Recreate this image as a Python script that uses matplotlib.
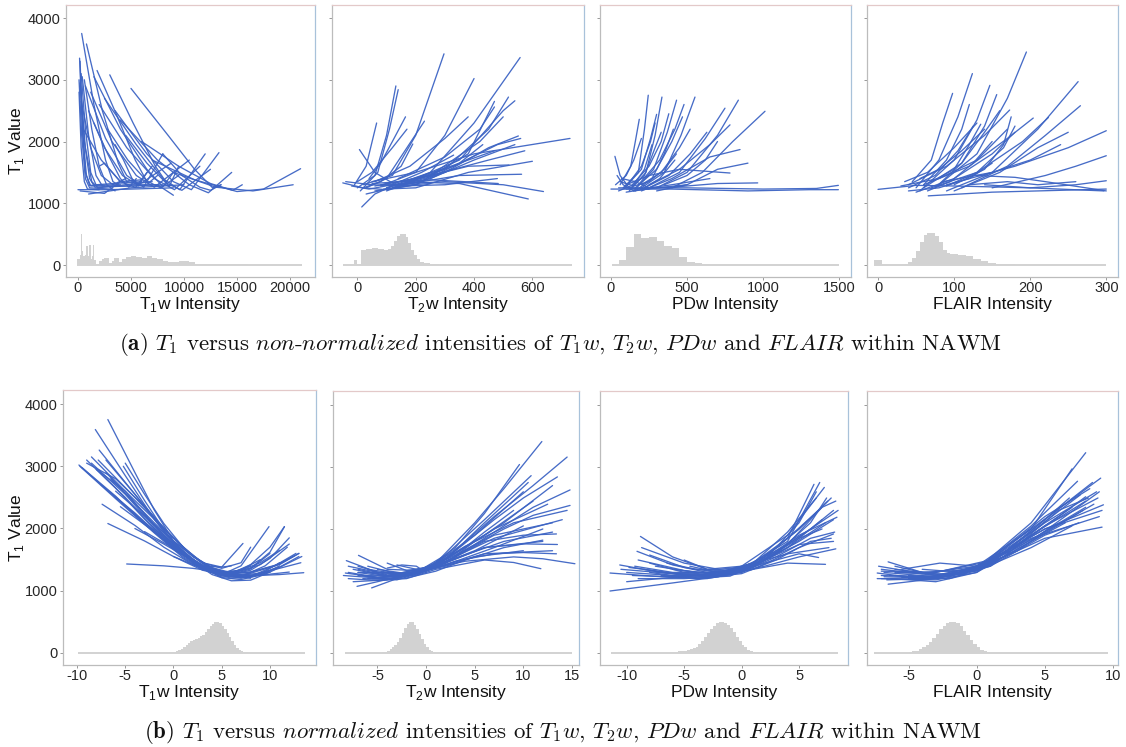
import numpy as np
import matplotlib
matplotlib.use("Agg")
import matplotlib.pyplot as plt

plt.rcParams['font.family'] = ['Liberation Sans', 'DejaVu Sans']

BLUE = '#3d64c4'
HIST = '#d2d2d2'

# ---------------- (a) non-normalized ----------------
t1w_raw_curves = [
    [(150, 3350), (450, 2100), (800, 1450), (1200, 1280), (2500, 1280)],
    [(200, 3300), (400, 2300), (700, 1500), (1100, 1290), (4000, 1300)],
    [(100, 3000), (350, 2100), (700, 1400), (1100, 1250), (3000, 1230)],
    [(300, 3100), (700, 2200), (1200, 1500), (1700, 1300), (6000, 1350)],
    [(250, 2900), (600, 2000), (1100, 1400), (1600, 1260), (8000, 1300)],
    [(100, 2800), (300, 1900), (600, 1350), (900, 1230), (2000, 1220)],
    [(400, 3050), (1000, 2100), (1700, 1450), (2300, 1280), (5000, 1280)],
    [(600, 3000), (1300, 2200), (2000, 1600), (2700, 1300), (3500, 1200)],
    [(200, 2950), (700, 1900), (1300, 1350), (1900, 1250), (7000, 1350)],
    [(0, 1220), (3000, 1220), (9000, 1250)],
    [(350, 3750), (1500, 2600), (2600, 1700), (3300, 1350), (3800, 1300)],
    [(800, 3580), (2300, 2500), (3800, 1650), (4600, 1350), (5200, 1380)],
    [(1800, 3150), (3600, 2450), (5400, 1700), (6600, 1320), (7500, 1450)],
    [(3000, 3080), (5200, 2300), (7300, 1600), (8600, 1270), (9500, 1600)],
    [(5000, 2860), (8500, 2100), (11000, 1550), (12700, 1250), (13500, 1300)],
    [(1500, 3050), (4000, 2200), (6500, 1550), (8000, 1270), (9000, 1500)],
    [(2500, 2700), (5500, 1950), (8000, 1400), (9600, 1220), (12000, 1800)],
    [(3500, 2500), (6500, 1800), (9000, 1350), (10700, 1220), (13300, 1820)],
    [(700, 2900), (2600, 2050), (4600, 1450), (6200, 1260), (8000, 1800)],
    [(1200, 2800), (3200, 2000), (5500, 1450), (7200, 1260), (10500, 1700)],
    [(2000, 2600), (4600, 1900), (7200, 1400), (9100, 1220), (11500, 1600)],
    [(4000, 2350), (7500, 1700), (10500, 1300), (12300, 1170), (14500, 1500)],
    [(500, 2200), (2200, 1700), (4000, 1350), (5400, 1260), (8800, 1650)],
    [(6000, 2000), (9500, 1600), (12500, 1320), (14600, 1210), (15500, 1300)],
    [(7000, 1700), (11000, 1380), (15000, 1190), (17500, 1230), (21000, 1560)],
    [(9000, 1500), (13000, 1260), (16500, 1200), (20300, 1300)],
    [(4500, 2100), (6500, 1650), (8300, 1330), (9800, 1210), (12500, 1550)],
    [(2000, 1600), (2500, 1650), (3000, 1550), (4000, 1350)],
    [(1000, 1150), (5000, 1250), (10000, 1300)],
    [(3500, 1950), (4300, 1700), (5100, 1400), (5700, 1280), (6500, 1500)],
    [(1500, 2300), (2800, 1800), (4000, 1400), (4800, 1260), (5500, 1400)],
    [(8000, 1800), (9800, 1450), (11500, 1260), (12500, 1210), (13500, 1300)],
    [(200, 1200), (2500, 1160), (4000, 1350), (6000, 1380)],
    [(5000, 1300), (7500, 1300), (9000, 1130)],
    [(1000, 2500), (2500, 1900), (4200, 1450), (5600, 1300), (7000, 1600)],
    [(300, 2650), (1200, 1900), (2200, 1450), (3300, 1300), (4500, 1400)],
    [(2800, 2200), (4700, 1700), (6500, 1360), (7800, 1250), (9500, 1450)],
]
t1w_raw_hist_edges = [-100, 150, 250, 400, 500, 650, 800, 950, 1050, 1200,
                      1350, 1450, 1550, 1700, 2000, 2300, 2500, 2900, 3200, 3400,
                      3900, 4200, 4500, 5000, 5500, 6000, 6500, 7000, 7500, 8000,
                      8500, 9000, 9500, 10500, 11000, 12000, 13000, 14000, 15000, 16000,
                      17000, 21100]
t1w_raw_hist_heights = [100, 160, 500, 220, 150, 160, 300, 150, 320, 100,
                        140, 320, 80, 20, 60, 100, 110, 30, 60, 110,
                        50, 100, 130, 140, 130, 120, 140, 110, 90, 70,
                        55, 50, 60, 55, 20, 12, 10, 15, 12, 6, 3]

t2w_raw_curves = [
    [(20, 1300), (120, 1450), (200, 2100), (297, 3420)],
    [(100, 1250), (250, 1500), (400, 2300), (558, 3360)],
    [(80, 1280), (200, 1500), (300, 2100), (400, 3020)],
    [(0, 1250), (60, 1450), (100, 2100), (132, 2900)],
    [(10, 1200), (70, 1500), (110, 2200), (140, 2840)],
    [(-10, 1300), (30, 1600), (66, 2300)],
    [(7, 1870), (60, 1500), (130, 1300), (220, 1350)],
    [(50, 1350), (200, 1500), (400, 1800), (729, 2050)],
    [(100, 1300), (300, 1350), (500, 1300), (638, 1190)],
    [(150, 1350), (350, 1320), (586, 1070)],
    [(15, 940), (60, 1150), (120, 1280), (250, 1320)],
    [(120, 1250), (300, 1500), (450, 1900), (552, 2090)],
    [(80, 1300), (250, 1450), (450, 1700), (574, 1850)],
    [(130, 1280), (350, 1450), (563, 1470)],
    [(50, 1320), (250, 1380), (483, 1320)],
    [(100, 1200), (300, 1550), (450, 2200), (518, 2720)],
    [(150, 1300), (350, 1700), (500, 2500), (540, 2660)],
    [(60, 1350), (180, 1600), (300, 2050), (380, 2400)],
    [(0, 1350), (50, 1500), (120, 1900), (170, 2200)],
    [(30, 1250), (100, 1400), (170, 1900), (230, 2330)],
    [(200, 1300), (380, 1800), (470, 2650)],
    [(100, 1250), (250, 1450), (420, 2000), (500, 2400)],
    [(-40, 1350), (50, 1300), (150, 1280), (300, 1300), (480, 1400)],
    [(60, 1200), (200, 1300), (350, 1650), (430, 1950)],
    [(170, 1350), (330, 1600), (480, 1950), (560, 2050)],
    [(-50, 1330), (20, 1250), (100, 1220), (200, 1300)],
    [(30, 1150), (120, 1250), (250, 1400), (320, 1550)],
    [(140, 1400), (300, 1750), (420, 2200), (470, 2560)],
    [(40, 1400), (80, 1650), (120, 2000), (165, 2400)],
    [(210, 1400), (380, 1600), (520, 1620)],
    [(90, 1230), (200, 1250), (380, 1500), (600, 1680)],
    [(20, 1250), (80, 1350), (150, 1600), (190, 1960)],
    [(250, 1400), (400, 1700), (540, 1950)],
    [(60, 1280), (180, 1380), (320, 1600), (470, 1850)],
    [(-20, 1280), (40, 1230), (120, 1300), (220, 1500), (330, 1780)],
]
t2w_raw_hist_edges = [-50, -10, -2, 12, 30, 50, 70, 90, 105, 115,
                      125, 135, 145, 155, 165, 175, 185, 195, 205, 215,
                      230, 250, 280, 735]
t2w_raw_hist_heights = [0, 80, 0, 240, 265, 275, 260, 245, 255, 300,
                        390, 470, 510, 505, 450, 350, 250, 170, 100, 55,
                        25, 10, 3]

pdw_raw_curves = [
    [(80, 1250), (180, 1500), (220, 2200), (245, 2750)],
    [(120, 1200), (230, 1500), (290, 2100), (335, 2720)],
    [(200, 1250), (350, 1500), (460, 2100), (552, 2720)],
    [(300, 1250), (500, 1500), (700, 2100), (837, 2670)],
    [(400, 1250), (600, 1500), (800, 2000), (1012, 2490)],
    [(60, 1300), (130, 1600), (160, 2000), (186, 2360)],
    [(90, 1250), (200, 1550), (260, 2050), (300, 2440)],
    [(150, 1200), (280, 1550), (370, 2150), (431, 2670)],
    [(250, 1250), (450, 1500), (620, 2050), (749, 2540)],
    [(250, 1300), (450, 1550), (650, 1950), (782, 2270)],
    [(200, 1200), (400, 1400), (650, 1750), (848, 1870)],
    [(100, 1230), (400, 1260), (700, 1320), (964, 1330)],
    [(0, 1230), (400, 1230), (900, 1200), (1300, 1220), (1494, 1220)],
    [(50, 1250), (500, 1250), (1000, 1230), (1350, 1240), (1494, 1290)],
    [(26, 1760), (60, 1450), (120, 1250), (250, 1230)],
    [(40, 1450), (80, 1300), (150, 1200), (300, 1250), (500, 1300)],
    [(100, 1300), (250, 1450), (450, 1550), (782, 1490)],
    [(140, 1300), (250, 1600), (330, 2000), (380, 2450)],
    [(160, 1250), (300, 1550), (400, 2000), (470, 2400)],
    [(180, 1300), (320, 1700), (420, 2200), (480, 2600)],
    [(110, 1300), (200, 1600), (260, 2000), (290, 2300)],
    [(130, 1250), (220, 1450), (290, 1900), (330, 2150)],
    [(220, 1250), (380, 1450), (520, 1800), (630, 2150)],
    [(70, 1400), (160, 1350), (250, 1250), (400, 1300), (650, 1400)],
    [(300, 1200), (500, 1300), (700, 1550), (900, 1650)],
    [(50, 1200), (150, 1300), (220, 1550), (270, 1950)],
    [(160, 1200), (270, 1400), (350, 1800), (410, 2200)],
    [(200, 1300), (330, 1500), (450, 1900), (520, 2200)],
    [(30, 1300), (100, 1450), (150, 1700), (200, 2050)],
    [(350, 1300), (500, 1450), (620, 1700), (700, 2000)],
    [(60, 1350), (150, 1280), (250, 1350), (350, 1550), (430, 1800)],
    [(100, 1180), (200, 1220), (320, 1400), (420, 1700)],
]
pdw_raw_hist_edges = [0, 50, 100, 150, 200, 250, 300, 350, 400, 450, 500, 550, 600, 650, 1500]
pdw_raw_hist_heights = [5, 80, 290, 510, 430, 460, 395, 300, 270, 125, 55, 27, 10, 3]

flair_raw_curves = [
    [(80, 1300), (130, 1800), (170, 2700), (195, 3450)],
    [(50, 1250), (80, 1700), (105, 2400), (124, 3100)],
    [(90, 1200), (150, 1500), (210, 2200), (263, 2970)],
    [(110, 1250), (170, 1600), (220, 2100), (266, 2580)],
    [(90, 1300), (180, 1600), (250, 1900), (300, 2175)],
    [(150, 1250), (220, 1450), (260, 1600), (300, 1770)],
    [(140, 1300), (200, 1250), (260, 1300), (300, 1365)],
    [(0, 1225), (50, 1290), (100, 1280), (200, 1250), (297, 1200)],
    [(66, 1120), (150, 1180), (300, 1230)],
    [(70, 1250), (130, 1500), (190, 2000), (224, 2390)],
    [(100, 1200), (160, 1500), (210, 1900), (250, 2150)],
    [(60, 1300), (120, 1600), (170, 2050), (204, 2380)],
    [(40, 1300), (90, 1600), (140, 2100), (173, 2510)],
    [(45, 1350), (70, 1700), (85, 2300), (98, 2780)],
    [(55, 1200), (100, 1700), (130, 2350), (147, 2910)],
    [(60, 1250), (110, 1650), (140, 2250), (156, 2760)],
    [(60, 1300), (90, 1700), (110, 2200), (120, 2600)],
    [(75, 1250), (110, 1650), (140, 2150), (160, 2500)],
    [(35, 1350), (65, 1500), (100, 1900), (130, 2300)],
    [(100, 1300), (140, 1550), (165, 1950), (175, 2400)],
    [(30, 1280), (80, 1400), (130, 1700), (170, 2200)],
    [(50, 1180), (100, 1400), (150, 1800), (180, 2150)],
    [(85, 1350), (150, 1500), (200, 1700), (240, 1950)],
    [(130, 1450), (180, 1420), (220, 1350), (300, 1200)],
    [(40, 1200), (80, 1250), (120, 1400), (150, 1650)],
    [(70, 1350), (100, 1550), (120, 1950), (135, 2280)],
    [(120, 1300), (170, 1350), (210, 1300), (260, 1350)],
    [(55, 1400), (80, 1550), (110, 1850), (140, 2200)],
    [(90, 1280), (130, 1500), (165, 1900), (180, 2250)],
    [(40, 1250), (75, 1450), (105, 1850), (125, 2250)],
    [(65, 1200), (95, 1350), (125, 1650), (150, 2000)],
]
flair_raw_hist_edges = [-5, 5, 35, 40, 45, 50, 55, 60, 65, 70, 75, 80, 85, 90, 95,
                        105, 115, 125, 135, 145, 155, 165, 180, 200, 300]
flair_raw_hist_heights = [80, 8, 20, 50, 120, 230, 380, 480, 520, 520, 470, 370, 250, 200,
                          185, 165, 140, 105, 65, 35, 18, 10, 5, 3]

# ---------------- (b) normalized ----------------
t1w_norm_curves = [
    [(-9.8, 3020), (-6, 2500), (-2, 1950), (1, 1550), (3, 1350), (5, 1250), (8, 1240), (11, 1260), (13.5, 1290)],
    [(-9.7, 3000), (-6, 2480), (-2, 1930), (1, 1530), (3, 1340), (5, 1260), (8, 1300), (11, 1420), (13, 1600)],
    [(-6.8, 3750), (-4, 2900), (-2, 2300), (0, 1800), (2, 1450), (4, 1300), (5, 1290)],
    [(-8.1, 3590), (-5, 2850), (-2, 2150), (1, 1600), (3, 1370), (5, 1270), (7, 1330)],
    [(-7.7, 3260), (-4, 2550), (-1, 1950), (2, 1480), (4, 1300), (6, 1260), (8, 1350), (10, 1600)],
    [(-6.8, 2080), (-3, 1800), (0, 1550), (3, 1330), (5, 1260), (7, 1400), (9.9, 2030)],
    [(-4.85, 1430), (-1, 1400), (2, 1360), (5, 1300), (7, 1260)],
    [(-7.4, 2390), (-4, 2050), (-1, 1700), (2, 1420), (4, 1300), (6, 1280), (8, 1420), (10, 1700), (11.5, 2030)],
    [(-5.2, 3000), (-3, 2450), (-1, 1980), (1, 1620), (3, 1400), (5, 1380), (7.2, 1760)],
    [(-9, 3100), (-6, 2650), (-3, 2150), (0, 1700), (2, 1470), (4, 1310), (6, 1260), (8, 1330), (10, 1520), (12, 1850)],
    [(-8.5, 3150), (-5, 2600), (-2, 2050), (1, 1600), (3, 1380), (5, 1280), (8, 1300), (11, 1430), (13, 1600)],
    [(-8, 2950), (-5, 2500), (-2, 2000), (1, 1580), (3, 1370), (5, 1240), (8, 1280), (10.5, 1400), (12.5, 1560)],
    [(-7, 2900), (-4, 2400), (-1, 1900), (2, 1470), (4, 1260), (6, 1160), (8, 1170), (10, 1300)],
    [(-6.5, 2800), (-3, 2250), (0, 1780), (3, 1380), (5, 1210), (7, 1180), (9, 1250), (11, 1400)],
    [(-8.5, 3050), (-5, 2550), (-2, 2030), (1, 1590), (3, 1360), (5, 1220), (8, 1240), (11, 1380), (13, 1550)],
    [(-7.5, 2700), (-4, 2250), (-1, 1820), (2, 1460), (4, 1290), (6, 1250), (9, 1500)],
    [(-6, 2500), (-3, 2100), (0, 1720), (3, 1400), (5, 1300), (7, 1320), (9, 1420), (12, 1750)],
    [(-9, 3050), (-6, 2800), (-3, 2350), (0, 1850), (2, 1560), (4, 1370), (6, 1260), (9, 1250), (12, 1300)],
    [(-7, 3100), (-4, 2550), (-1, 2000), (2, 1550), (4, 1340), (6, 1290), (8, 1400)],
    [(-5, 3050), (-3, 2550), (-1, 2080), (1, 1700), (3, 1450), (5, 1380), (6, 1400)],
    [(-8, 2950), (-5, 2600), (-2, 2150), (1, 1700), (3, 1450), (5, 1360), (7, 1450), (8, 1700)],
    [(-6, 2600), (-3, 2200), (0, 1800), (3, 1440), (5, 1260), (7, 1200), (9, 1270), (11, 1450)],
    [(-4, 2000), (-1, 1750), (2, 1480), (4, 1320), (6, 1220), (8, 1220), (10, 1300)],
    [(-3, 1950), (0, 1680), (3, 1420), (5, 1300), (7, 1250), (10, 1300), (13.3, 1550)],
    [(-5.5, 2350), (-2, 1950), (1, 1580), (3, 1380), (5, 1240), (7, 1230), (9.5, 1400), (11.8, 1700)],
    [(-7.8, 3100), (-4, 2500), (-1, 2000), (2, 1560), (4, 1360), (6, 1250), (8, 1200)],
    [(-2, 2000), (0, 1750), (2, 1500), (4, 1300), (6, 1200), (8, 1230), (10.5, 1400), (12.7, 1600)],
    [(0, 1550), (2, 1420), (4, 1300), (6, 1230), (8, 1240), (10, 1320), (13.2, 1450)],
    [(-9.5, 2980), (-6, 2520), (-3, 2070), (0, 1690), (3, 1390), (5, 1300), (7, 1330), (9, 1450), (11, 1650)],
    [(0, 1800), (2, 1550), (4, 1370), (6, 1290), (8, 1360), (10, 1620), (11.5, 2030)],
]
t1w_norm_hist_start = -1.0
t1w_norm_hist_heights = [3, 5, 8, 12, 20, 30, 45, 65, 95, 130, 165, 190, 210, 225, 245, 265,
                         290, 330, 380, 430, 470, 495, 500, 480, 440, 385, 320, 250, 185,
                         125, 80, 48, 28, 15, 8, 4]
t1w_norm_base = (-9.9, 13.6)

t2w_norm_curves = [
    [(-8.3, 1290), (-5, 1220), (-2, 1250), (1, 1450), (5, 2100), (8, 2650), (11.9, 3410)],
    [(-7, 1350), (-4, 1250), (-1, 1300), (2, 1520), (7, 2200), (11, 2700), (14.5, 3160)],
    [(-8, 1300), (-5, 1220), (-2, 1250), (2, 1450), (8, 2050), (11, 2350), (14.8, 2630)],
    [(-6.5, 1250), (-3, 1240), (0, 1350), (3, 1580), (8, 2000), (11, 2220), (14.8, 2380)],
    [(-7, 1400), (-4, 1260), (-1, 1290), (2, 1520), (7, 2150), (10, 2500), (13.5, 2840)],
    [(-6, 1300), (-3, 1220), (0, 1350), (3, 1700), (6, 2250), (9.6, 3040)],
    [(-7.5, 1350), (-4, 1240), (-1, 1300), (2, 1580), (6, 2150), (10.8, 2860)],
    [(-8.2, 1490), (-5, 1300), (-2, 1260), (1, 1380), (6, 1800), (10, 1900), (13.4, 1920)],
    [(-7, 1250), (-4, 1200), (-1, 1260), (2, 1450), (6, 1700), (10, 1760), (13.5, 1750)],
    [(-6, 1200), (-3, 1210), (0, 1320), (3, 1480), (7, 1600), (10, 1620), (13.4, 1600)],
    [(-5, 1300), (-2, 1290), (1, 1380), (4, 1480), (9, 1550), (12, 1520), (15.3, 1440)],
    [(-8, 1200), (-5, 1170), (-2, 1200), (1, 1350), (6, 1500), (9, 1460), (11.8, 1360)],
    [(-7.1, 1075), (-5, 1150), (-2, 1260), (1, 1400), (6, 1700), (12, 1800)],
    [(-6.95, 1575), (-4, 1350), (-1, 1330), (2, 1480), (7, 1900), (13, 2100)],
    [(-5.6, 1050), (-3, 1200), (0, 1350), (5, 1650), (10, 2050)],
    [(-7, 1300), (-4, 1230), (-1, 1290), (2, 1420), (7, 1700), (12, 2000)],
    [(-6, 1400), (-3, 1280), (0, 1370), (3, 1650), (6, 2100), (10.5, 2750)],
    [(-8.5, 1250), (-5, 1210), (-2, 1260), (1, 1450), (5, 1900), (10, 2600)],
    [(-4, 1450), (-2, 1330), (1, 1400), (4, 1580), (8, 1800), (13, 1950)],
    [(-6.5, 1200), (-3, 1180), (0, 1320), (3, 1600), (7, 2000), (12.5, 2400)],
    [(-7.5, 1150), (-4, 1180), (-1, 1290), (2, 1480), (7, 1850), (14, 2150)],
    [(-5, 1350), (-2, 1280), (1, 1420), (4, 1720), (9, 2100), (14.5, 2300)],
    [(-8, 1400), (-5, 1300), (-2, 1290), (1, 1380), (6, 1600), (13, 1650)],
    [(-5.5, 1200), (-2, 1210), (1, 1320), (4, 1500), (8, 1700), (12, 1820)],
    [(-6, 1350), (-3, 1280), (0, 1370), (3, 1620), (6, 1900), (11, 2450)],
    [(-4.5, 1250), (-2, 1260), (1, 1430), (4, 1700), (6, 1950), (9, 2300)],
    [(-7, 1300), (-4, 1290), (-1, 1300), (2, 1400), (5, 1550), (10, 1650)],
    [(-3, 1420), (-1, 1350), (2, 1450), (5, 1800), (8, 2100), (13, 2700)],
    [(-4, 1370), (-2.5, 1420), (-1, 1400), (0, 1300)],
]
t2w_norm_hist_start = -5.0
t2w_norm_hist_heights = [3, 6, 12, 22, 38, 60, 90, 130, 180, 240, 320, 400, 465, 500,
                         495, 450, 380, 300, 220, 150, 95, 55, 30, 15, 8, 4]
t2w_norm_base = (-8.3, 15.0)

pdw_norm_curves = [
    [(-11.45, 1000), (-6, 1130), (-2, 1230), (2, 1500), (6, 2000), (8, 2300)],
    [(-11.45, 1290), (-7, 1230), (-3, 1200), (0, 1300), (4, 1700), (7.3, 2100)],
    [(-10.6, 1420), (-7, 1300), (-3, 1230), (0, 1350), (4, 1800), (6.8, 2750)],
    [(-8.8, 1880), (-6, 1550), (-3, 1350), (0, 1400), (4, 1900), (7.2, 2670)],
    [(-9.1, 1640), (-6, 1420), (-3, 1300), (0, 1350), (4, 1750), (8.4, 2300)],
    [(-9, 1500), (-5, 1330), (-2, 1270), (1, 1400), (5, 1900), (8.3, 2190)],
    [(-8, 1450), (-5, 1300), (-2, 1250), (1, 1350), (5, 1700), (8, 1920)],
    [(-7, 1300), (-4, 1250), (-1, 1280), (2, 1400), (5, 1550), (8.2, 1680)],
    [(-9.5, 1250), (-6, 1230), (-2, 1250), (1, 1350), (4, 1450), (7.3, 1430)],
    [(-8.5, 1350), (-5, 1250), (-1, 1260), (2, 1450), (5, 1600), (6.7, 1540)],
    [(-10, 1300), (-6, 1250), (-2, 1240), (1, 1400), (4, 1850), (6.3, 2720)],
    [(-8, 1580), (-5, 1380), (-2, 1300), (1, 1450), (4, 1850), (7, 2350)],
    [(-10.5, 1350), (-6, 1280), (-2, 1250), (1, 1400), (5, 2000), (7.8, 2500)],
    [(-7.5, 1400), (-4, 1300), (-1, 1300), (2, 1550), (5, 2000), (7.5, 2450)],
    [(-9, 1200), (-5, 1200), (-1, 1240), (2, 1500), (5, 2100), (6.5, 2600)],
    [(-6, 1350), (-3, 1280), (0, 1300), (3, 1550), (6, 1850), (8.1, 1950)],
    [(-10, 1150), (-6, 1220), (-2, 1270), (1, 1450), (4, 1600), (7.6, 1700)],
    [(-8.7, 1700), (-5, 1450), (-2, 1350), (1, 1400), (5, 1800), (8, 2150)],
    [(-7, 1250), (-4, 1220), (-1, 1280), (2, 1500), (5, 1850), (7, 2000)],
    [(-5, 1500), (-3, 1350), (0, 1330), (3, 1600), (6, 2100), (7.4, 2500)],
    [(-9.3, 1400), (-6, 1300), (-2, 1300), (1, 1450), (4, 1950), (6.5, 2500)],
    [(-6.5, 1450), (-4, 1350), (-1, 1320), (2, 1500), (5, 1750), (8, 1800)],
    [(-8, 1300), (-4, 1200), (0, 1280), (3, 1500), (6, 1800), (7.8, 1850)],
    [(-4.5, 1400), (-2, 1300), (1, 1400), (4, 1750), (7, 2350), (8.2, 2450)],
    [(-9.8, 1380), (-6, 1290), (-2, 1260), (1, 1380), (4, 1700), (7, 2150)],
]
pdw_norm_hist_start = -7.0
pdw_norm_hist_heights = [3, 5, 8, 12, 16, 20, 25, 30, 38, 48, 60, 78, 105, 145, 200, 265,
                         330, 390, 440, 480, 500, 505, 490, 455, 400, 335, 265, 195, 135,
                         90, 55, 32, 18, 10, 5, 3, 2, 1]
pdw_norm_base = (-11.4, 8.4)

flair_norm_curves = [
    [(-7.3, 1290), (-4, 1200), (0, 1350), (4, 2100), (8, 3230)],
    [(-6.5, 1470), (-4, 1300), (0, 1350), (4, 2000), (9.1, 2820)],
    [(-6.5, 1110), (-3, 1200), (0, 1380), (5, 2000), (9.3, 2390)],
    [(-7, 1350), (-3, 1250), (1, 1450), (5, 1850), (9.2, 2030)],
    [(-6, 1250), (-3, 1200), (0, 1350), (4, 2050), (7.4, 2770)],
    [(-5.5, 1350), (-2.7, 1450), (0, 1400), (4, 2000), (7, 2970)],
    [(-7, 1200), (-3, 1180), (0, 1300), (5, 2100), (8.8, 2600)],
    [(-6.8, 1300), (-3, 1230), (1, 1450), (5, 2150), (8.5, 2750)],
    [(-6, 1400), (-3, 1250), (0, 1330), (4, 1900), (8, 2450)],
    [(-7.2, 1400), (-4, 1280), (0, 1400), (4, 1850), (9, 2200)],
    [(-5, 1200), (-2, 1230), (1, 1500), (5, 2200), (8.3, 2650)],
    [(-6.3, 1200), (-3, 1150), (0, 1300), (4, 1800), (7.8, 2300)],
    [(-7, 1250), (-4, 1230), (-1, 1270), (3, 1700), (8, 2350)],
    [(-5.8, 1300), (-3, 1300), (1, 1480), (5, 1950), (8.6, 2400)],
    [(-6.6, 1180), (-3, 1200), (1, 1400), (5, 1900), (7.5, 2100)],
    [(-6, 1350), (-2, 1250), (2, 1550), (6, 2300), (8.2, 2500)],
    [(-4.5, 1300), (-2, 1260), (1, 1420), (4, 1700), (7, 2050)],
    [(-7.3, 1200), (-4, 1190), (-1, 1280), (3, 1650), (9, 2600)],
    [(-6.4, 1250), (-3, 1220), (0, 1360), (4, 1950), (7.6, 2550)],
    [(-5.5, 1220), (-2, 1200), (1, 1400), (5, 2050), (8.9, 2500)],
    [(-6, 1300), (-3, 1270), (0, 1320), (4, 1800), (6.5, 2100)],
    [(-7, 1320), (-3, 1300), (1, 1500), (5, 2000), (9.2, 2300)],
    [(-4, 1350), (-1, 1300), (2, 1600), (6, 2200), (8, 2520)],
    [(-5, 1250), (-2, 1230), (1, 1430), (5, 2150), (6.8, 2500)],
    [(-6.8, 1230), (-3.5, 1210), (-0.5, 1320), (3, 1750), (7, 2350)],
]
flair_norm_hist_start = -5.5
flair_norm_hist_heights = [3, 8, 15, 25, 40, 60, 90, 130, 180, 240, 310, 380, 440, 485,
                           505, 505, 480, 430, 360, 285, 210, 145, 95, 55, 30, 15, 7, 3]
flair_norm_base = (-7.5, 9.6)

norm_bin_width = 0.25

# zero-count range drawn under the raw histograms
t1w_raw_base = (-100, 21100)
t2w_raw_base = (-50, 735)
pdw_raw_base = (10, 1495)
flair_raw_base = (-5, 300)

top_xticks = [[0, 5000, 10000, 15000, 20000], [0, 200, 400, 600], [0, 500, 1000, 1500], [0, 100, 200, 300]]
bot_xticks = [[-10, -5, 0, 5, 10], [-5, 0, 5, 10, 15], [-10, -5, 0, 5], [-5, 0, 5, 10]]
y_ticks = [0, 1000, 2000, 3000, 4000]
xlabels = ['T$_\\mathregular{1}$w Intensity', 'T$_\\mathregular{2}$w Intensity', 'PDw Intensity', 'FLAIR Intensity']

# ---------------- figure ----------------
W, H = 1126, 747
fig = plt.figure(figsize=(W / 100, H / 100), dpi=100)


def add_px_axes(l, t, r, b):
    return fig.add_axes([l / W, 1 - b / H, (r - l) / W, (b - t) / H])


top_boxes = [(66, 5, 315, 277), (332, 5, 584, 277), (600, 5, 851, 277), (867, 5, 1118, 277)]
bot_boxes = [(63, 390, 316, 665), (333, 391, 579, 665), (600, 391, 848, 665), (867, 391, 1118, 665)]
top_xlims = [(-1130, 22360), (-87, 777), (-72, 1577), (-14.5, 315.4)]
bot_xlims = [(-11.45, 14.77), (-9.57, 15.72), (-12.32, 9.26), (-8.05, 10.37)]
top_ylim = (-194, 4211)
bot_ylim = (-193, 4225)


def style_axes(ax, xticks, xlim, ylim, xlabel, first, label_y):
    ax.set_xlim(*xlim)
    ax.set_ylim(*ylim)
    ax.set_xticks(xticks)
    ax.set_xticklabels([str(v) for v in xticks])
    ax.set_yticks(y_ticks)
    if first:
        ax.set_yticklabels([str(v) for v in y_ticks])
    else:
        ax.set_yticklabels([])
    ax.tick_params(axis='both', direction='out', length=2.5, width=0.6, color='#888888',
                   labelsize=10.5, labelcolor='#262626', pad=1.5)
    ax.tick_params(axis='x', pad=0.5)
    for side in ['left', 'bottom']:
        ax.spines[side].set_color('#bcbcbc')
    ax.spines['top'].set_color('#e3c9c9')
    ax.spines['right'].set_color('#a8c2da')
    for s in ax.spines.values():
        s.set_linewidth(0.9)
    ax.text(0.5, label_y, xlabel, transform=ax.transAxes, ha='center', va='center',
            fontsize=12.5, color='#111111')


def draw_panel(ax, curves, edges, heights, base):
    ax.plot(base, [0, 0], color=HIST, lw=1.4, solid_capstyle='butt', zorder=1)
    ax.stairs(heights, edges, fill=True, color=HIST, lw=0, zorder=1)
    for c in curves:
        xs = [p[0] for p in c]
        ys = [p[1] for p in c]
        ax.plot(xs, ys, color=BLUE, lw=0.95, alpha=0.95, zorder=2,
                solid_joinstyle='round', solid_capstyle='round')


top_data = [
    (t1w_raw_curves, t1w_raw_hist_edges, t1w_raw_hist_heights, t1w_raw_base),
    (t2w_raw_curves, t2w_raw_hist_edges, t2w_raw_hist_heights, t2w_raw_base),
    (pdw_raw_curves, pdw_raw_hist_edges, pdw_raw_hist_heights, pdw_raw_base),
    (flair_raw_curves, flair_raw_hist_edges, flair_raw_hist_heights, flair_raw_base),
]
bot_data = [
    (t1w_norm_curves, t1w_norm_hist_start, t1w_norm_hist_heights, t1w_norm_base),
    (t2w_norm_curves, t2w_norm_hist_start, t2w_norm_hist_heights, t2w_norm_base),
    (pdw_norm_curves, pdw_norm_hist_start, pdw_norm_hist_heights, pdw_norm_base),
    (flair_norm_curves, flair_norm_hist_start, flair_norm_hist_heights, flair_norm_base),
]

for i in range(4):
    ax = add_px_axes(*top_boxes[i])
    curves, edges, heights, base = top_data[i]
    draw_panel(ax, curves, edges, heights, base)
    style_axes(ax, top_xticks[i], top_xlims[i], top_ylim, xlabels[i], i == 0, -0.101)

for i in range(4):
    ax = add_px_axes(*bot_boxes[i])
    curves, start, heights, base = bot_data[i]
    edges = start + norm_bin_width * np.arange(len(heights) + 1)
    draw_panel(ax, curves, edges, heights, base)
    style_axes(ax, bot_xticks[i], bot_xlims[i], bot_ylim, xlabels[i], i == 0, -0.099)

ylab = 'T$_\\mathregular{1}$ Value'
fig.text(17 / W, 1 - 141 / H, ylab, rotation=90, ha='center', va='center', fontsize=12.5, color='#111111')
fig.text(16 / W, 1 - 528 / H, ylab, rotation=90, ha='center', va='center', fontsize=12.5, color='#111111')

cap_a = (r"$\mathbf{(a)}$ $T_1$ versus $\mathit{non}$-$\mathit{normalized}$ intensities of "
         r"$T_1w$, $T_2w$, $PDw$ and $FLAIR$ within NAWM")
cap_b = (r"$\mathbf{(b)}$ $T_1$ versus $\mathit{normalized}$ intensities of "
         r"$T_1w$, $T_2w$, $PDw$ and $FLAIR$ within NAWM")
fig.text(560 / W, 1 - 345 / H, cap_a, ha='center', va='center', fontsize=16.5,
         family='cmr10', math_fontfamily='cm', color='#111111')
fig.text(563 / W, 1 - 732 / H, cap_b, ha='center', va='center', fontsize=16.5,
         family='cmr10', math_fontfamily='cm', color='#111111')

fig.savefig('out.png', dpi=100)
